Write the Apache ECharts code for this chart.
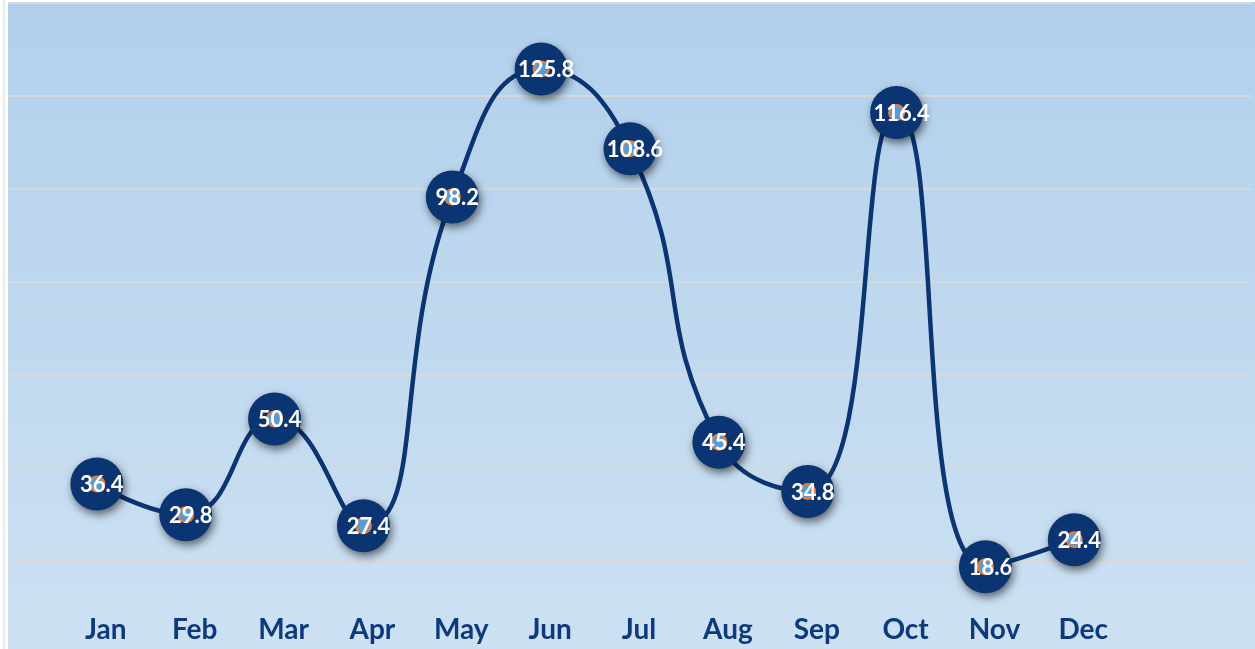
<!DOCTYPE html>
<html>
<head>
<meta charset="utf-8">
<style>
html,body{margin:0;padding:0;background:#fff;overflow:hidden;width:1255px;height:649px;}
#chart{width:1255px;height:660px;}
</style>
<script src="https://cdn.jsdelivr.net/npm/echarts@6/dist/echarts.min.js"></script>
</head>
<body>
<div id="chart"></div>
<script>
const categories = ['Jan','Feb','Mar','Apr','May','Jun','Jul','Aug','Sep','Oct','Nov','Dec'];
const values = [36.4, 29.8, 50.4, 27.4, 98.2, 125.8, 108.6, 45.4, 34.8, 116.4, 18.6, 24.4];
const yTicks = [0, 20, 40, 60, 80, 100, 120, 140];

const navy = '#0B3473';
const chart = echarts.init(document.getElementById('chart'), null, {renderer: 'canvas'});
chart.setOption({
  animation: false,
  backgroundColor: '#ffffff',
  graphic: [
    {type: 'rect', shape: {x: 3, y: 0, width: 2, height: 660}, style: {fill: '#ECECEC'}, z: -10},
    {type: 'rect', shape: {x: 8, y: 2, width: 1247, height: 658}, z: -10,
      style: {fill: new echarts.graphic.LinearGradient(0, 0, 0, 1, [
        {offset: 0, color: '#B2D0EB'}, {offset: 1, color: '#CDE1F3'}])}}
  ],
  grid: {left: 8, right: 0, top: 3, bottom: 7, containLabel: false},
  xAxis: {
    type: 'category',
    data: categories,
    boundaryGap: false,
    min: -1,
    max: 13,
    axisLine: {show: false},
    axisTick: {show: false},
    splitLine: {show: false},
    axisLabel: {
      inside: true,
      margin: 9,
      interval: 0,
      color: '#0D3A7C',
      fontFamily: 'Lato',
      fontWeight: 'bold',
      fontSize: 28,
      padding: [0, 0, 0, 18]
    }
  },
  yAxis: {
    type: 'value',
    min: yTicks[0],
    max: yTicks[yTicks.length - 1],
    interval: yTicks[1] - yTicks[0],
    axisLine: {show: false},
    axisTick: {show: false},
    axisLabel: {show: false},
    splitLine: {show: true, lineStyle: {color: '#D6D8DA', width: 2}}
  },
  series: [
    {
      type: 'line',
      data: values,
      smooth: 0.5,
      lineStyle: {color: navy, width: 4.5},
      symbol: 'circle',
      symbolSize: 53,
      itemStyle: {color: navy, shadowBlur: 8, shadowOffsetX: 2, shadowOffsetY: 4, shadowColor: 'rgba(0,0,0,0.55)'},
      z: 2
    },
    {
      type: 'line',
      data: values,
      lineStyle: {width: 0, opacity: 0},
      symbol: 'circle',
      symbolSize: 15,
      itemStyle: {color: '#5B9BD5', borderColor: '#ED7D31', borderWidth: 2},
      label: {
        show: true,
        position: 'inside',
        offset: [5, 1],
        color: '#ffffff',
        fontFamily: 'Lato',
        fontWeight: 'bold',
        fontSize: 22,
        formatter: p => p.value.toFixed(1)
      },
      z: 3
    }
  ]
});
</script>
</body>
</html>
